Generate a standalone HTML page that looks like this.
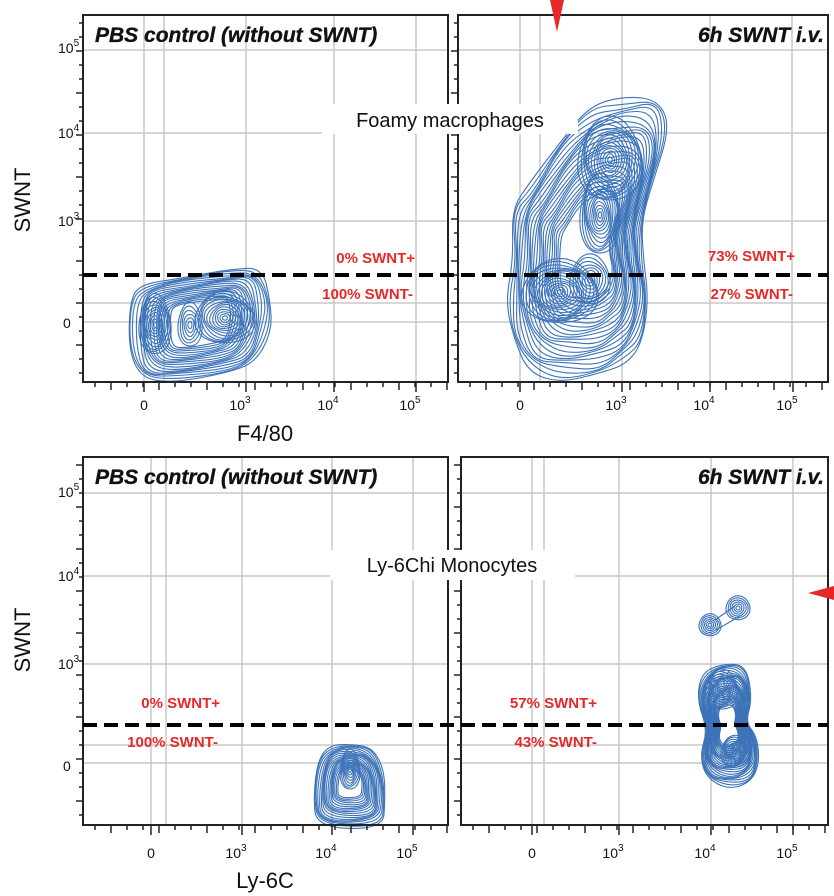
<!DOCTYPE html>
<html><head><meta charset="utf-8"><style>
html,body{margin:0;padding:0;background:#fff;}
svg{display:block;font-family:"Liberation Sans",Arial,sans-serif;}
</style></head><body>
<svg id="s" width="834" height="896" viewBox="0 0 834 896" xmlns="http://www.w3.org/2000/svg">
<g id="grid" stroke="#c8c8c8" stroke-width="1.5" fill="none"></g>
<g id="cont" stroke="#3c73b8" stroke-width="1.1" fill="none"></g>
<g id="frames" stroke="#222" stroke-width="2" fill="none">
<rect x="83" y="15" width="365" height="367"/>
<rect x="458" y="15" width="370" height="367"/>
<rect x="83" y="457" width="365" height="368"/>
<rect x="461" y="457" width="367" height="368"/>
</g>
<g id="ticks" stroke="#222" stroke-width="1.5"></g>
<g stroke="#000" stroke-width="4" stroke-dasharray="14,7">
<line x1="83" y1="275" x2="828" y2="275"/>
<line x1="83" y1="725" x2="828" y2="725"/>
</g>
<g font-weight="bold" font-style="italic" font-size="21" fill="#111" stroke="#111" stroke-width="0.35">
<text x="95" y="42">PBS control (without SWNT)</text>
<text x="824" y="42" text-anchor="end">6h SWNT i.v.</text>
<text x="95" y="484">PBS control (without SWNT)</text>
<text x="824" y="484" text-anchor="end">6h SWNT i.v.</text>
</g>
<rect x="322" y="104" width="256" height="30" fill="#fff"/>
<text x="450" y="127" font-size="20" text-anchor="middle" fill="#111">Foamy macrophages</text>
<rect x="330" y="550" width="245" height="30" fill="#fff"/>
<text x="452" y="572" font-size="20" text-anchor="middle" fill="#111">Ly-6Chi Monocytes</text>
<g font-size="15" font-weight="bold" fill="#e82828">
<text x="415" y="263" text-anchor="end">0% SWNT+</text>
<text x="413" y="299" text-anchor="end">100% SWNT-</text>
<text x="795" y="261" text-anchor="end">73% SWNT+</text>
<text x="793" y="299" text-anchor="end">27% SWNT-</text>
<text x="220" y="708" text-anchor="end">0% SWNT+</text>
<text x="218" y="747" text-anchor="end">100% SWNT-</text>
<text x="597" y="708" text-anchor="end">57% SWNT+</text>
<text x="597" y="747" text-anchor="end">43% SWNT-</text>
</g>
<g font-size="14" fill="#111" id="labels"></g>
<g font-size="22" fill="#111">
<text x="265" y="441" text-anchor="middle">F4/80</text>
<text x="265" y="888" text-anchor="middle">Ly-6C</text>
<text transform="translate(30,200) rotate(-90)" text-anchor="middle">SWNT</text>
<text transform="translate(30,640) rotate(-90)" text-anchor="middle">SWNT</text>
</g>
<polygon points="550,0 564,0 557,32" fill="#e82828"/>
<polygon points="808,593 834,586 834,600" fill="#e82828"/>
</svg>
<script>
var NS="http://www.w3.org/2000/svg";
function el(p,t,a,txt){var e=document.createElementNS(NS,t);for(var k in a)e.setAttribute(k,a[k]);if(txt)e.textContent=txt;document.getElementById(p).appendChild(e);return e;}
var panels=[
 {x0:83,x1:448,y0:15,y1:382,vx:[144,164,246,334,416],hy:[50,133,221,303,322],xl:[144,246,334,416],yl:[48,133,221,323],ly:410},
 {x0:458,x1:828,y0:15,y1:382,vx:[520,540,622,710,792],hy:[50,133,221,303,322],xl:[520,622,710,793],ly:410},
 {x0:83,x1:448,y0:457,y1:825,vx:[151,166,242,332,413],hy:[493,576,664,745,763],xl:[151,242,332,413],yl:[492,576,664,766],ly:858},
 {x0:461,x1:828,y0:457,y1:825,vx:[532,544,619,711,793],hy:[493,576,664,745,763],xl:[532,619,711,793],ly:858}
];
var lab=["0","10","10","10"],sup=["","3","4","5"],ysup=["5","4","3",""];
panels.forEach(function(p,i){
 p.vx.forEach(function(x){el("grid","line",{x1:x,y1:p.y0,x2:x,y2:p.y1});});
 p.hy.forEach(function(y){el("grid","line",{x1:p.x0,y1:y,x2:p.x1,y2:y});});
 for(var x=p.x0+12;x<p.x1;x+=16){el("ticks","line",{x1:x,y1:p.y1,x2:x,y2:p.y1+(x%3==0?8:5)});}
 p.xl.forEach(function(x){el("ticks","line",{x1:x,y1:p.y1,x2:x,y2:p.y1+10});});
 for(var y=p.y0+8;y<p.y1;y+=14){el("ticks","line",{x1:p.x0,y1:y,x2:p.x0-(y%3==0?7:4),y2:y});}
 p.xl.forEach(function(x,j){var t=el("labels","text",{x:x-(j?6:0),y:p.ly,"text-anchor":"middle"},lab[j]);
   if(sup[j]){var s=document.createElementNS(NS,"tspan");s.setAttribute("dy","-7");s.setAttribute("font-size","10");s.textContent=sup[j];t.appendChild(s);}});
 if(p.yl)p.yl.forEach(function(y,j){var t=el("labels","text",{x:ysup[j]?58:63,y:y+5},ysup[j]?"10":"0");
   if(ysup[j]){var s=document.createElementNS(NS,"tspan");s.setAttribute("dy","-7");s.setAttribute("font-size","10");s.textContent=ysup[j];t.appendChild(s);}});
});
function smooth(P){var n=P.length,d="";
 for(var i=0;i<n;i++){var a=P[i],b=P[(i+1)%n];var m=[(a[0]+b[0])/2,(a[1]+b[1])/2];
  if(i==0){var z=P[n-1];d+="M"+((z[0]+a[0])/2).toFixed(1)+","+((z[1]+a[1])/2).toFixed(1);}
  d+="Q"+a[0].toFixed(1)+","+a[1].toFixed(1)+" "+m[0].toFixed(1)+","+m[1].toFixed(1);}
 return d+"Z";}
function hull(pts,cx,cy,n,minf){
 for(var k=0;k<n;k++){var f=1-(1-minf)*k/n;
  var P=pts.map(function(q,a){var w=1+0.03*Math.sin(a*2.3+k);return [cx+(q[0]-cx)*f*w,cy+(q[1]-cy)*f*w];});
  el("cont","path",{d:smooth(P)});}
}
function blob(cx,cy,rx,ry,n,j){
 for(var k=0;k<n;k++){var f=1-k/n;var d="";
  for(var a=0;a<=36;a++){var t=a/36*Math.PI*2;var w=1+j*Math.sin(3*t+k)*0.5;
   d+=(a?"L":"M")+(cx+rx*f*w*Math.cos(t)).toFixed(1)+","+(cy+ry*f*w*Math.sin(t)).toFixed(1);}
  el("cont","path",{d:d+"Z"});}
}
var tl=[[130,300],[142,285],[180,277],[230,270],[262,268],[272,300],[270,330],[257,362],[230,373],[175,381],[140,380],[129,350]];
hull(tl,200,322,18,0.4);
blob(155,325,16,30,10,0.1);blob(225,318,30,26,12,0.1);blob(190,325,12,22,6,0.1);
var tr=[[512,210],[528,188],[560,138],[590,108],[625,97],[660,96],[668,130],[654,180],[642,220],[642,260],[650,300],[642,342],[626,362],[600,377],[560,380],[528,372],[512,340],[508,300],[512,260]];
hull(tr,590,250,24,0.35);
blob(610,160,32,42,14,0.1);blob(600,215,20,40,12,0.1);blob(560,292,38,32,14,0.1);blob(590,280,20,25,8,0.1);
var bl=[[318,760],[330,746],[350,743],[372,748],[384,770],[386,800],[382,828],[316,828],[313,795]];
hull(bl,350,782,18,0.3);blob(350,770,10,20,8,0.1);
blob(710,625,11,11,6,0.05);blob(738,608,12,12,6,0.05);
el("cont","path",{d:"M715,620 L735,606 M716,630 L740,616"});
var br=[[697,700],[702,674],[722,662],[746,666],[752,700],[746,722],[756,736],[760,762],[752,782],[730,788],[706,780],[700,755],[708,730]];
hull(br,728,725,24,0.3);
blob(722,690,16,20,10,0.1);blob(735,752,14,16,10,0.1);
</script>
</body></html>
